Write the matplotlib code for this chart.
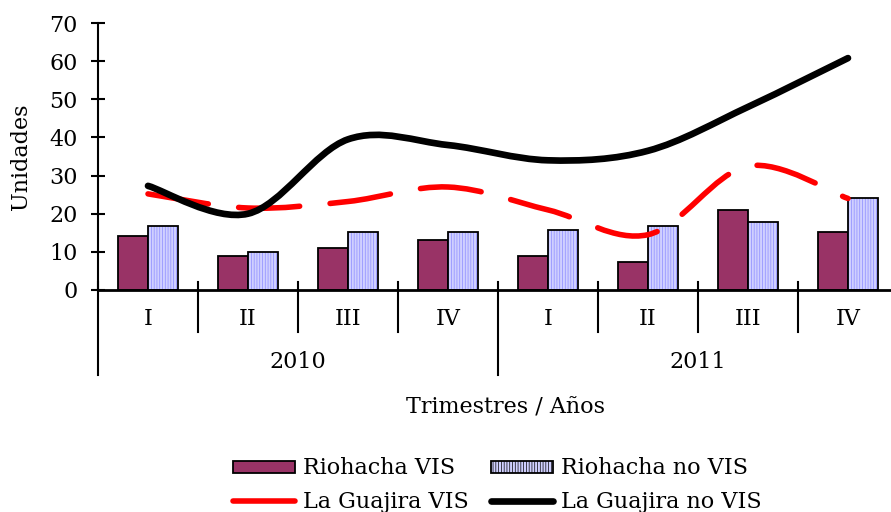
import matplotlib
matplotlib.use("Agg")
import matplotlib.pyplot as plt
import numpy as np
from matplotlib.path import Path
from matplotlib.patches import PathPatch
from matplotlib.lines import Line2D
from matplotlib.patches import Patch

plt.rcParams['font.family'] = ['DejaVu Serif']
plt.rcParams['hatch.linewidth'] = 0.5

# datos
trimestres = ["I", "II", "III", "IV", "I", "II", "III", "IV"]
anios = ["2010", "2011"]
riohacha_vis = [14.2, 9.0, 11.0, 13.0, 9.0, 7.4, 21.0, 15.2]
riohacha_no_vis = [16.7, 10.0, 15.1, 15.1, 15.7, 16.8, 17.8, 24.0]
guajira_vis = [25.2, 21.5, 23.2, 27.0, 21.0, 14.5, 32.5, 24.0]
guajira_no_vis = [27.3, 20.0, 39.5, 38.0, 34.0, 36.5, 48.0, 60.8]

FS = 16


def curva_suave(ax, xs, ys, **kw):
    # suavizado tipo Excel (Catmull-Rom -> Bezier)
    pts = np.column_stack([xs, ys]).astype(float)
    ext = np.vstack([pts[0], pts, pts[-1]])
    verts = [tuple(pts[0])]
    codes = [Path.MOVETO]
    for i in range(len(pts) - 1):
        p0, p1, p2, p3 = ext[i], ext[i + 1], ext[i + 2], ext[i + 3]
        c1 = p1 + (p2 - p0) / 6.0
        c2 = p2 - (p3 - p1) / 6.0
        verts += [tuple(c1), tuple(c2), tuple(p2)]
        codes += [Path.CURVE4] * 3
    patch = PathPatch(Path(verts, codes), fill=False, **kw)
    ax.add_patch(patch)
    return patch


fig = plt.figure(figsize=(8.91, 5.12), dpi=100)
ax = fig.add_axes([98 / 891, 1 - 290 / 512, 800 / 891, 267 / 512])

x = np.arange(len(trimestres))
w = 0.3
ax.bar(x - w / 2, riohacha_vis, w, color="#993366", edgecolor="black", linewidth=1.3, zorder=2)
ax.bar(x + w / 2, riohacha_no_vis, w, color="#D0D0FF", edgecolor="#8C8CFF", hatch="||||||", linewidth=0, zorder=2)
ax.bar(x + w / 2, riohacha_no_vis, w, fill=False, edgecolor="black", linewidth=1.3, zorder=2.1)

curva_suave(ax, x, guajira_vis, edgecolor="red", linewidth=4.0, capstyle="round",
            linestyle=(0, (11, 5.5)), zorder=3)
curva_suave(ax, x, guajira_no_vis, edgecolor="black", linewidth=4.8, capstyle="round", zorder=4)

ax.set_xlim(-0.5, 7.5)
ax.set_ylim(0, 70)
ax.set_yticks(range(0, 71, 10))
ax.tick_params(axis="y", direction="inout", length=9.5, width=1.5, labelsize=FS, pad=10)
ax.set_xticks([])
for s in ["top", "right"]:
    ax.spines[s].set_visible(False)
ax.spines["left"].set_linewidth(1.5)
ax.spines["bottom"].set_linewidth(2)
ax.set_ylabel("Unidades", fontsize=FS, labelpad=12)

# separadores y etiquetas de categoría
trans = ax.get_xaxis_transform()
px = 1.0 / 267
for b in np.arange(-0.5, 8.0, 1.0):
    largo = 85 if b in (-0.5, 3.5, 7.5) else 42
    ax.plot([b, b], [8 * px, -largo * px], transform=trans, color="black", lw=1.5, clip_on=False)
for i, t in enumerate(trimestres):
    ax.text(i, -29 * px, t, transform=trans, ha="center", va="center", fontsize=FS)
for j, a in enumerate(anios):
    ax.text(1.5 + 4 * j, -72 * px, a, transform=trans, ha="center", va="center", fontsize=FS)
fig.text(505 / 891, 1 - 408 / 512, "Trimestres / Años", ha="center", va="center", fontsize=FS)

handles = [
    Patch(facecolor="#993366", edgecolor="black", linewidth=1.3),
    Line2D([], [], color="red", lw=4.0, solid_capstyle="round"),
    Patch(facecolor="#D0D0FF", edgecolor="black", hatch="||||||", linewidth=1.3),
    Line2D([], [], color="black", lw=4.8, solid_capstyle="round"),
]
labels = ["Riohacha VIS", "La Guajira VIS", "Riohacha no VIS", "La Guajira no VIS"]
fig.legend(handles, labels, ncol=2, loc="center left", bbox_to_anchor=(222 / 891, 1 - 485 / 512),
           frameon=False, fontsize=FS, handlelength=2.8, handleheight=0.45,
           handletextpad=0.35, columnspacing=1.0, labelspacing=0.5, borderpad=0)

fig.savefig("out.png", dpi=100)
